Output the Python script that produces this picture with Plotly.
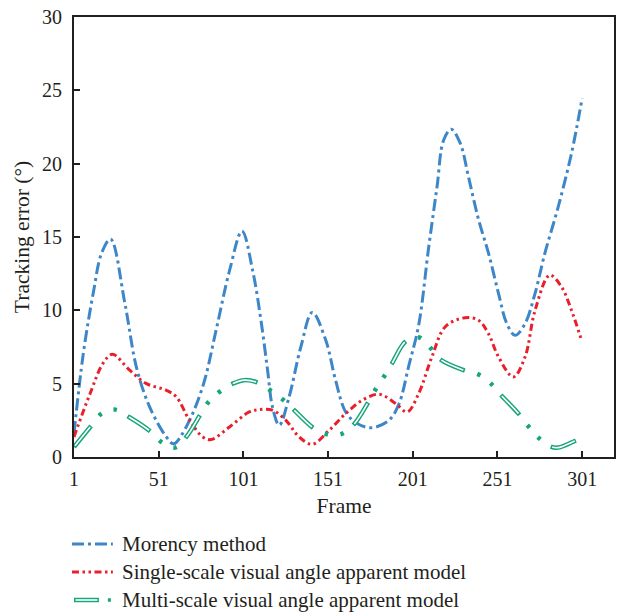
import plotly.graph_objects as go

# Frame numbers and tracking error (degrees) for each method
morency_frames = [1, 6.5, 12.4, 17.3, 22.6, 31, 37.9, 45.7, 55.5, 59.8, 67, 77, 84.9, 92.8,
                  100.2, 106.5, 111.4, 115.3, 118.2, 122.2, 128, 134.9, 141.7, 149.6, 155.5,
                  161.4, 168.2, 177, 186.9, 192.8, 198.6, 204.5, 210.4, 215.3, 219.2, 223.7,
                  229, 233.9, 239.8, 245.7, 251.6, 256.5, 261.4, 267.3, 273.2, 279, 286.9,
                  294.7, 301]
morency_error = [1.6, 7.06, 11.2, 13.9, 14.86, 10.5, 6.1, 3.4, 1.37, 0.9, 2.0, 4.8, 8.65, 12.7,
                 15.4, 12.7, 9.3, 5.9, 3.4, 2.16, 4.1, 7.5, 9.86, 7.97, 5.2,
                 3.07, 2.28, 2.0, 2.5, 3.6, 6.2, 9.0, 14.3, 18.4, 21.6, 22.35,
                 21.4, 19.1, 16.2, 13.9, 11.16, 9.1, 8.3, 9.1, 11.16, 13.9, 17.07,
                 20.7, 24.47]

single_frames = [1, 10.4, 18.2, 23.7, 34, 43.8, 55.5, 61.4, 69.2, 77, 82, 92.8, 104.5, 110.4,
                 118.2, 126.1, 133.9, 141.7, 151.6, 161.4, 171.2, 181.1, 190.9, 197.7, 204.5,
                 212.3, 220.2, 231.9, 239.8, 245.7, 251.6, 260.4, 267.3, 273.2, 281.9, 288.8,
                 294.7, 300.6]
single_error = [1.37, 4.3, 6.4, 7.0, 5.9, 5.0, 4.55, 4.1, 2.5, 1.37, 1.19, 2.05, 3.07, 3.23,
                3.19, 2.5, 1.37, 0.87, 1.82, 2.96, 3.87, 4.28, 3.65, 3.07, 4.33,
                6.83, 8.88, 9.5, 9.33, 8.4, 6.83, 5.46, 6.83, 10.0, 12.4, 11.6,
                10.0, 7.97]

multi_frames = [1, 11.4, 17.3, 25.5, 33.5, 46.1, 52.6, 60.6, 67.3, 75.5, 80.4, 86.9, 94.7,
                101.6, 110, 117.5, 124.5, 131, 142.8, 150.6, 159, 166.3, 174.7, 179, 183.9,
                188.5, 197, 204.9, 211.4, 217.3, 231, 239.4, 246.7, 252.6, 263.4, 268.8,
                274.7, 282, 287, 296.7, 301]
multi_error = [0.68, 2.16, 2.96, 3.23, 2.73, 1.75, 1.02, 0.64, 1.37, 2.87, 3.75, 4.44, 5.0,
               5.24, 5.05, 4.5, 3.9, 3.19, 1.94, 1.55, 1.57, 2.23, 3.73, 4.6, 5.46,
               6.33, 7.9, 8.15, 7.44, 6.65, 5.92, 5.65, 5.05, 4.28, 2.96, 2.16,
               1.37, 0.73, 0.64, 1.09, 1.3]

series_names = ["Morency method",
                "Single-scale visual angle apparent model",
                "Multi-scale visual angle apparent model"]
x_ticks = [1, 51, 101, 151, 201, 251, 301]
y_ticks = [0, 5, 10, 15, 20, 25, 30]

BLUE = "#3d86c8"
RED = "#e8202e"
GREEN = "#17a57b"
AXIS = "#231f20"
FONT = "Liberation Serif"

BLUE_DASH = "12px,4px,3px,4px"
RED_DASH = "7px,3.5px,2.5px,3.5px,2.5px,3.5px"
GREEN_DASH = "27px,13px,3.5px,12.5px,3.5px,12.5px"   # period 72
GREEN_CORE = "0px,1.5px,24px,46.5px"                 # hollow centre of the long dashes

W, H = 619, 612
ML, MR, MT, MB = 74, 3, 17, 155

fig = go.Figure()
fig.add_trace(go.Scatter(x=morency_frames, y=morency_error, mode="lines",
                         line=dict(color=BLUE, width=3, dash=BLUE_DASH, shape="spline", smoothing=1.0),
                         name=series_names[0], showlegend=False))
fig.add_trace(go.Scatter(x=single_frames, y=single_error, mode="lines",
                         line=dict(color=RED, width=3, dash=RED_DASH, shape="spline", smoothing=1.0),
                         name=series_names[1], showlegend=False))
fig.add_trace(go.Scatter(x=multi_frames, y=multi_error, mode="lines",
                         line=dict(color=GREEN, width=4.5, dash=GREEN_DASH, shape="spline", smoothing=1.0),
                         name=series_names[2], showlegend=False))
fig.add_trace(go.Scatter(x=multi_frames, y=multi_error, mode="lines",
                         line=dict(color="white", width=1.6, dash=GREEN_CORE, shape="spline", smoothing=1.0),
                         hoverinfo="skip", showlegend=False))

# Legend drawn below the axes
pw = W - ML - MR
ph = H - MT - MB


def px_x(px):
    return (px - ML) / pw


def px_y(py):
    return (H - MB - py) / ph


shapes = []
annotations = []
rows = [544, 572, 600]
for name, row, col, dash in zip(series_names, rows, [BLUE, RED, GREEN], [BLUE_DASH, RED_DASH, None]):
    if dash is not None:
        shapes.append(dict(type="line", xref="paper", yref="paper",
                           x0=px_x(72), x1=px_x(113), y0=px_y(row), y1=px_y(row),
                           line=dict(color=col, width=3, dash=dash)))
    else:
        shapes.append(dict(type="line", xref="paper", yref="paper",
                           x0=px_x(74), x1=px_x(99), y0=px_y(row), y1=px_y(row),
                           line=dict(color=col, width=4.5)))
        shapes.append(dict(type="line", xref="paper", yref="paper",
                           x0=px_x(75.5), x1=px_x(97.5), y0=px_y(row), y1=px_y(row),
                           line=dict(color="white", width=1.6)))
        shapes.append(dict(type="line", xref="paper", yref="paper",
                           x0=px_x(108), x1=px_x(111), y0=px_y(row), y1=px_y(row),
                           line=dict(color=col, width=3.5)))
    annotations.append(dict(text=name, xref="paper", yref="paper",
                            x=px_x(120), y=px_y(row), xanchor="left", yanchor="middle",
                            showarrow=False, font=dict(family=FONT, size=21, color=AXIS)))

fig.update_layout(
    width=W, height=H,
    margin=dict(l=ML, r=MR, t=MT, b=MB),
    paper_bgcolor="white", plot_bgcolor="white",
    font=dict(family=FONT, size=20, color=AXIS),
    shapes=shapes, annotations=annotations,
    xaxis=dict(range=[1, 319.8], tickvals=x_ticks, ticks="inside", ticklen=6, tickwidth=2,
               tickcolor=AXIS, showline=True, linecolor=AXIS, linewidth=2, mirror=True,
               showgrid=False, zeroline=False, ticklabelstandoff=3,
               title=dict(text="Frame", font=dict(family=FONT, size=21.5), standoff=9)),
    yaxis=dict(range=[0, 30], tickvals=y_ticks, ticks="inside", ticklen=6, tickwidth=2,
               tickcolor=AXIS, showline=True, linecolor=AXIS, linewidth=2, mirror=True,
               showgrid=False, zeroline=False, ticklabelstandoff=6,
               title=dict(text="Tracking error (°)", font=dict(family=FONT, size=21.5), standoff=6)),
)

fig.write_html("out.html")
